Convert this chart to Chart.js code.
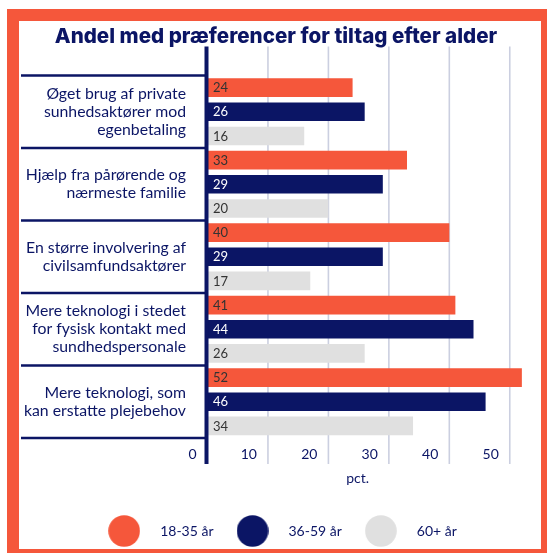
<!DOCTYPE html>
<html><head><meta charset="utf-8">
<script src="https://cdn.jsdelivr.net/npm/chart.js@4.4.1/dist/chart.umd.min.js"></script>
<style>
html,body{margin:0;padding:0;background:#fff;overflow:hidden;width:547px;height:553px;}
#frame{position:absolute;left:7px;top:9px;width:522px;height:528px;border:12px solid #F5573B;}
#wrap{position:absolute;left:0;top:0;width:547px;height:553px;}
</style></head><body>
<div id="frame"></div>
<div id="wrap"><canvas id="c" width="547" height="553"></canvas></div>
<script>
const titleText = 'Andel med præferencer for tiltag efter alder';
const categories = [
  ['Øget brug af private', 'sunhedsaktører mod', 'egenbetaling'],
  ['Hjælp fra pårørende og', 'nærmeste familie'],
  ['En større involvering af', 'civilsamfundsaktører'],
  ['Mere teknologi i stedet', 'for fysisk kontakt med', 'sundhedspersonale'],
  ['Mere teknologi, som', 'kan erstatte plejebehov']
];
const seriesNames = ['18-35 år', '36-59 år', '60+ år'];
const young = [24, 33, 40, 41, 52];
const middle = [26, 29, 29, 44, 46];
const senior = [16, 20, 17, 26, 34];
const xTicks = [0, 10, 20, 30, 40, 50];
const xAxisTitle = 'pct.';

const NAVY = '#0B1565';
const ORANGE = '#F5573B';
const GREY = '#E0E0E0';
const GRID = '#CBCFE0';
const seriesColors = [ORANGE, NAVY, GREY];
const valueColors = ['#333333', '#FFFFFF', '#333333'];

function makeDot(color) {
  const c = document.createElement('canvas');
  c.width = 32; c.height = 32;
  const g = c.getContext('2d');
  g.fillStyle = color;
  g.beginPath(); g.arc(16, 16, 15.8, 0, Math.PI * 2); g.fill();
  return c;
}

const decor = {
  id: 'decor',
  beforeDatasetsDraw(chart) {
    const {ctx, chartArea: a, scales: {x, y}} = chart;
    ctx.save();
    ctx.strokeStyle = GRID;
    ctx.lineWidth = 1.6;
    x.ticks.forEach(t => {
      if (t.value === 0) return;
      const px = x.getPixelForValue(t.value);
      ctx.beginPath(); ctx.moveTo(px, a.top - 29); ctx.lineTo(px, a.bottom + 26); ctx.stroke();
    });
    const n = categories.length;
    const band = (y.bottom - y.top) / n;
    ctx.strokeStyle = NAVY;
    ctx.lineWidth = 2.4;
    const x0 = x.getPixelForValue(0);
    for (let k = 0; k <= n; k++) {
      const yy = k < n ? y.getPixelForValue(k) - band / 2 : y.getPixelForValue(n - 1) + band / 2;
      ctx.beginPath(); ctx.moveTo(21, yy); ctx.lineTo(x0, yy); ctx.stroke();
    }
    ctx.restore();
  },
  afterDatasetsDraw(chart) {
    const {ctx, chartArea: a, scales: {x}} = chart;
    ctx.save();
    ctx.font = '13px Lato';
    ctx.textBaseline = 'middle';
    ctx.textAlign = 'left';
    chart.data.datasets.forEach((ds, i) => {
      const meta = chart.getDatasetMeta(i);
      ctx.fillStyle = valueColors[i];
      meta.data.forEach((bar, j) => {
        ctx.fillText(String(ds.data[j]), bar.base + 5.5, bar.y + 0.5);
      });
    });
    const x0 = x.getPixelForValue(0);
    ctx.strokeStyle = NAVY;
    ctx.lineWidth = 4;
    ctx.beginPath(); ctx.moveTo(x0 - 1, a.top - 29); ctx.lineTo(x0 - 1, a.bottom + 26); ctx.stroke();
    ctx.fillStyle = NAVY;
    ctx.font = '14px Lato';
    ctx.textAlign = 'center';
    ctx.fillText(xAxisTitle, x.getPixelForValue(25) - 1, a.bottom + 40);
    ctx.restore();
  }
};

function build() {
  new Chart(document.getElementById('c'), {
    type: 'bar',
    data: {
      labels: categories,
      datasets: [
        {label: seriesNames[0], data: young, backgroundColor: seriesColors[0]},
        {label: seriesNames[1], data: middle, backgroundColor: seriesColors[1]},
        {label: seriesNames[2], data: senior, backgroundColor: seriesColors[2]}
      ].map(d => Object.assign(d, {categoryPercentage: 1, barPercentage: 0.77, borderWidth: 0}))
    },
    options: {
      indexAxis: 'y',
      responsive: false,
      animation: false,
      events: [],
      layout: {padding: {left: 12, right: 7, top: 0, bottom: 5}},
      scales: {
        x: {
          type: 'linear', min: 0, max: 55,
          afterBuildTicks: s => { s.ticks = xTicks.map(v => ({value: v})); },
          afterFit: s => { s.height = 76; },
          grid: {display: false, drawTicks: false},
          border: {display: false},
          ticks: {color: NAVY, font: {family: 'Lato', size: 14}, align: 'end', labelOffset: -11, padding: 8, maxRotation: 0}
        },
        y: {
          afterFit: s => { s.width = 195.5; },
          grid: {display: false, drawTicks: false},
          border: {display: false},
          ticks: {color: NAVY, font: {family: 'Lato', size: 15.8, lineHeight: '18px'}, padding: 21.5}
        }
      },
      plugins: {
        title: {
          display: true, text: titleText, color: NAVY,
          font: {family: 'Inter', size: 20.6, weight: '800', lineHeight: 1.2},
          padding: {top: 24.5, bottom: 26.3}
        },
        legend: {
          position: 'bottom',
          labels: {
            usePointStyle: true, pointStyleWidth: 58, padding: 10,
            color: NAVY, font: {family: 'Lato', size: 14},
            generateLabels: chart => chart.data.datasets.map((ds, i) => ({
              text: ds.label, fillStyle: ds.backgroundColor, strokeStyle: ds.backgroundColor,
              lineWidth: 0, pointStyle: makeDot(ds.backgroundColor), hidden: false,
              datasetIndex: i, fontColor: NAVY
            }))
          }
        },
        tooltip: {enabled: false}
      }
    },
    plugins: [decor]
  });
}
Chart.defaults.font.family = 'Lato';
if (document.fonts && document.fonts.load) {
  Promise.all([document.fonts.load('15px Lato'), document.fonts.load('800 20px Inter')]).then(build, build);
} else build();
</script>
</body></html>
